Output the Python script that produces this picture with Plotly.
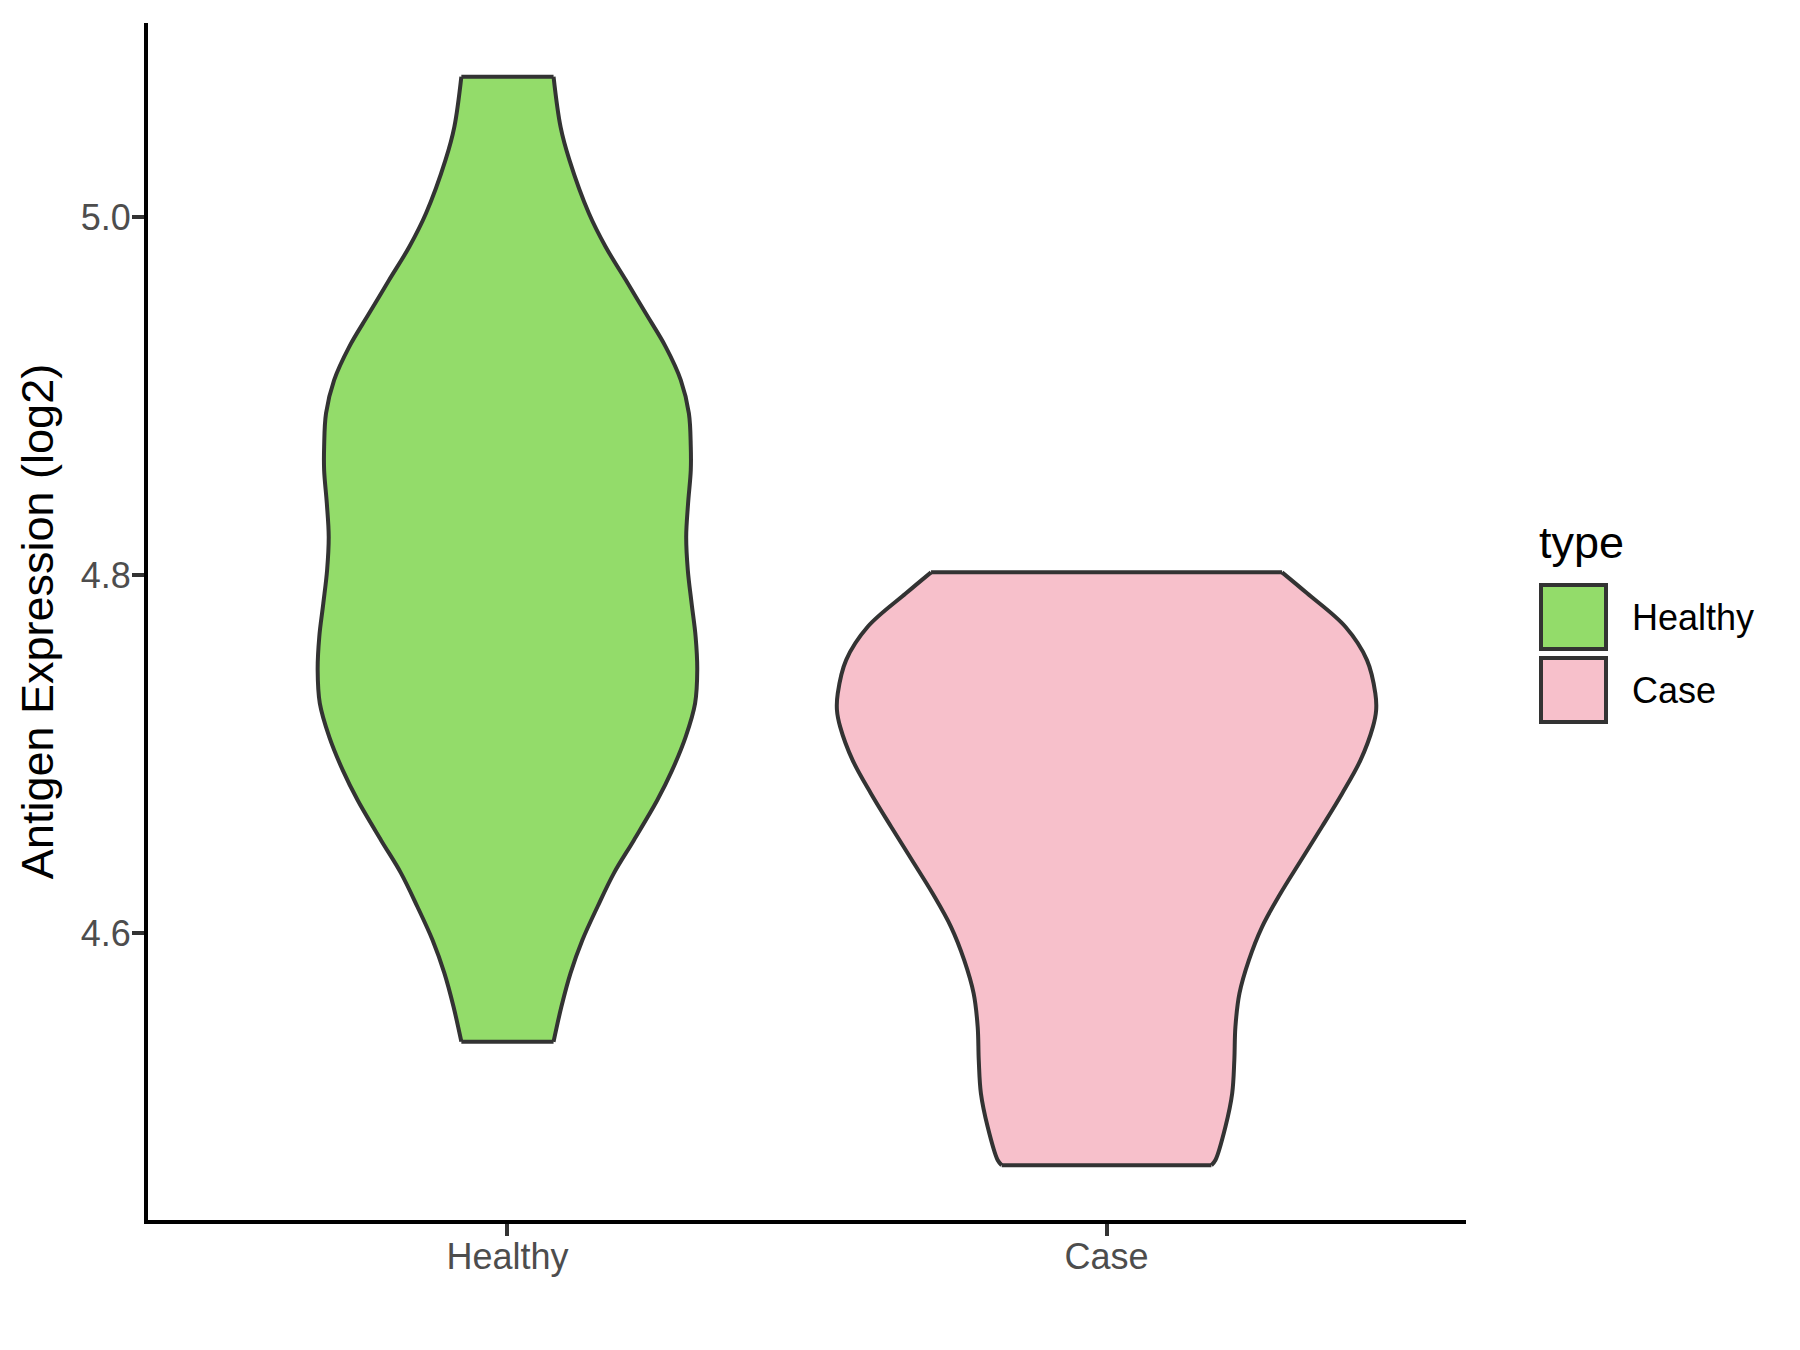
import plotly.graph_objects as go

# ---- data ----
categories = ["Healthy", "Case"]

healthy_y = [5.0784, 5.0504, 5.0318, 5.0021, 4.9834, 4.9648, 4.9462, 4.9275,
             4.9089, 4.8903, 4.8717, 4.8586, 4.8400, 4.8214, 4.8028, 4.7842, 4.7655,
             4.7469, 4.7283, 4.7096, 4.6910, 4.6743, 4.6519, 4.6335, 4.6147, 4.5961,
             4.5776, 4.5588, 4.5393]
healthy_density = [0.171, 0.197, 0.230, 0.302, 0.364, 0.439, 0.513, 0.587,
                   0.643, 0.673, 0.680, 0.680, 0.670, 0.663, 0.669, 0.683, 0.698,
                   0.704, 0.696, 0.661, 0.611, 0.556, 0.469, 0.395, 0.334, 0.278,
                   0.234, 0.200, 0.171]

case_y = [4.8015, 4.7898, 4.7711, 4.7525, 4.7339, 4.7246, 4.7152, 4.6966, 4.6780,
          4.6594, 4.6408, 4.6221, 4.6035, 4.5849, 4.5663, 4.5476, 4.5290, 4.5104,
          4.4918, 4.4732, 4.4703]
case_density = [0.651, 0.744, 0.886, 0.966, 0.997, 1.000, 0.988, 0.942, 0.874,
                0.799, 0.722, 0.645, 0.577, 0.528, 0.493, 0.478, 0.474, 0.466,
                0.441, 0.404, 0.389]

y_ticks = [4.6, 4.8, 5.0]
y_tick_labels = ["4.6", "4.8", "5.0"]

series = [
    ("Healthy", healthy_y, healthy_density, "#93DC6A"),
    ("Case", case_y, case_density, "#F7C0CB"),
]

# ---- style ----
MAX_HALF_WIDTH = 0.45
OUTLINE = "#333333"
LW = 4
FONT = "Liberation Sans, Arial, sans-serif"
SMOOTH = 1.0

fig = go.Figure()

for i, (name, ys, dens, color) in enumerate(series):
    pos = i + 1
    left = [pos - MAX_HALF_WIDTH * d for d in dens]
    right = [pos + MAX_HALF_WIDTH * d for d in dens]
    # fill polygon (straight edges so the flat ends stay flat)
    fig.add_trace(go.Scatter(
        x=left + right[::-1] + [left[0]],
        y=ys + ys[::-1] + [ys[0]],
        mode="lines", fill="toself", fillcolor=color,
        line=dict(width=0, color=color),
        hoverinfo="skip", showlegend=False,
    ))
    # curved sides
    for side in (left, right):
        fig.add_trace(go.Scatter(
            x=side, y=ys, mode="lines",
            line=dict(color=OUTLINE, width=LW, shape="spline", smoothing=SMOOTH),
            hoverinfo="skip", showlegend=False,
        ))
    # flat top and bottom
    fig.add_trace(go.Scatter(
        x=[left[0], right[0], None, left[-1], right[-1]],
        y=[ys[0], ys[0], None, ys[-1], ys[-1]],
        mode="lines", line=dict(color=OUTLINE, width=LW),
        hoverinfo="skip", showlegend=False,
    ))

W, H = 1800, 1350
OFFX, OFFY = 6, 8  # page body offset
ml, mr, mt, mb = 146 - OFFX, 1800 + OFFX - 1464, 23 - OFFY, 138
pw, ph = W - ml - mr, H - mt - mb

def px_x(p):
    return (p - OFFX - ml) / pw

def px_y(p):
    return (H - mb - (p - OFFY)) / ph

# manual legend (ggplot style)
fig.add_annotation(x=px_x(1535), y=px_y(542), xref="paper", yref="paper",
                   text="type", showarrow=False, xanchor="left", yanchor="middle",
                   font=dict(family=FONT, size=45, color="black"))
key_tops = [584, 657]
for (name, ys, dens, color), top in zip(series, key_tops):
    fig.add_shape(type="rect", xref="paper", yref="paper",
                  x0=px_x(1539), x1=px_x(1604), y0=px_y(top + 65), y1=px_y(top + 1),
                  fillcolor=color, line=dict(color=OUTLINE, width=LW))
    fig.add_annotation(x=px_x(1628), y=px_y(top + 33), xref="paper", yref="paper",
                       text=name, showarrow=False, xanchor="left", yanchor="middle",
                       font=dict(family=FONT, size=36, color="black"))

fig.update_layout(
    width=W, height=H,
    margin=dict(l=ml, r=mr, t=mt, b=mb, pad=0),
    plot_bgcolor="white", paper_bgcolor="white",
    showlegend=False,
    font=dict(family=FONT),
    xaxis=dict(
        range=[0.4, 2.6], tickmode="array", tickvals=[1, 2], ticktext=categories,
        showgrid=False, zeroline=False, showline=True, linecolor="black", linewidth=4,
        ticks="outside", ticklen=12, tickwidth=4, tickcolor="#333333",
        ticklabelstandoff=-10,
        tickfont=dict(family=FONT, size=36, color="#4D4D4D"),
    ),
    yaxis=dict(
        range=[4.4397, 5.1084], tickmode="array", tickvals=y_ticks, ticktext=y_tick_labels,
        showgrid=False, zeroline=False, showline=True, linecolor="black", linewidth=4,
        ticks="outside", ticklen=12, tickwidth=4, tickcolor="#333333",
        ticklabelstandoff=-6,
        tickfont=dict(family=FONT, size=36, color="#4D4D4D"),
        title=dict(text="Antigen Expression (log2)", standoff=14,
                   font=dict(family=FONT, size=45, color="black")),
    ),
)

fig.write_html("out.html")
